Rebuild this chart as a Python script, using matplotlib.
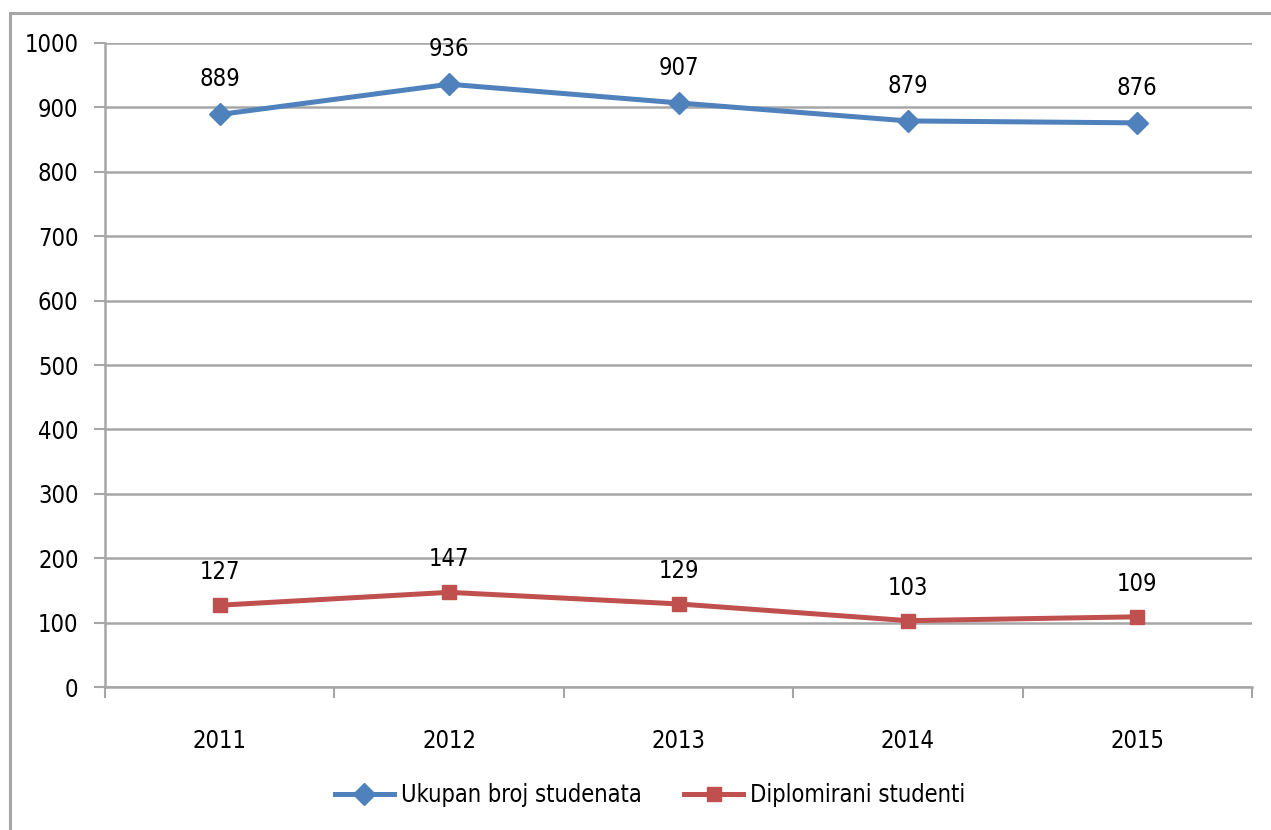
import matplotlib
matplotlib.use("Agg")
from matplotlib import pyplot as plt
from matplotlib.patches import Rectangle

plt.rcParams['font.family'] = ['DejaVu Sans']
plt.rcParams['font.stretch'] = 'condensed'

years = ['2011', '2012', '2013', '2014', '2015']
ukupan = [889, 936, 907, 879, 876]
diplomirani = [127, 147, 129, 103, 109]

blue = '#4F81BD'
red = '#C0504D'
grid_col = '#A6A6A6'

W, H = 1271, 830
fig = plt.figure(figsize=(W / 100, H / 100), dpi=100)
ax = fig.add_axes([105 / W, 1 - 687 / H, (1252 - 105) / W, (687 - 43) / H])

# outer chart border (clipped by the picture edge on the right and bottom)
fig.patches.append(Rectangle((10 / W, -0.1), 1.2, 1 - 13 / H + 0.1,
                             transform=fig.transFigure, fill=False,
                             edgecolor=grid_col, linewidth=2.2, zorder=0))

x = list(range(len(years)))
ax.plot(x, ukupan, color=blue, lw=3.6, marker='D', ms=11,
        label='Ukupan broj studenata', zorder=3)
ax.plot(x, diplomirani, color=red, lw=3.6, marker='s', ms=9.5,
        label='Diplomirani studenti', zorder=3)

fs = 17
for xi, v in zip(x, ukupan):
    ax.annotate(str(v), (xi, v), xytext=(0, 35), textcoords='offset pixels',
                ha='center', va='center', fontsize=fs)
for xi, v in zip(x, diplomirani):
    ax.annotate(str(v), (xi, v), xytext=(0, 33), textcoords='offset pixels',
                ha='center', va='center', fontsize=fs)

ax.set_xlim(-0.5, 4.5)
ax.set_ylim(0, 1000)
ax.set_yticks(range(0, 1001, 100))
ax.tick_params(axis='y', labelsize=fs, length=8, width=1.5, color=grid_col, pad=11)
ax.set_xticks(x)
ax.set_xticklabels(years)
ax.tick_params(axis='x', which='major', length=0, labelsize=fs, pad=30)
ax.set_xticks([-0.5, 0.5, 1.5, 2.5, 3.5, 4.5], minor=True)
ax.tick_params(axis='x', which='minor', length=8, width=1.5, color=grid_col)

ax.grid(axis='y', color=grid_col, lw=1.8)
ax.set_axisbelow(True)
for s in ['top', 'right']:
    ax.spines[s].set_visible(False)
for s in ['left', 'bottom']:
    ax.spines[s].set_color(grid_col)
    ax.spines[s].set_linewidth(1.8)

fig.legend(loc='center', bbox_to_anchor=(650 / W, 1 - 795 / H), ncol=2,
           frameon=False, fontsize=fs, handlelength=2.5, handletextpad=0.3,
           columnspacing=1.8)

fig.savefig('out.png', dpi=100)
